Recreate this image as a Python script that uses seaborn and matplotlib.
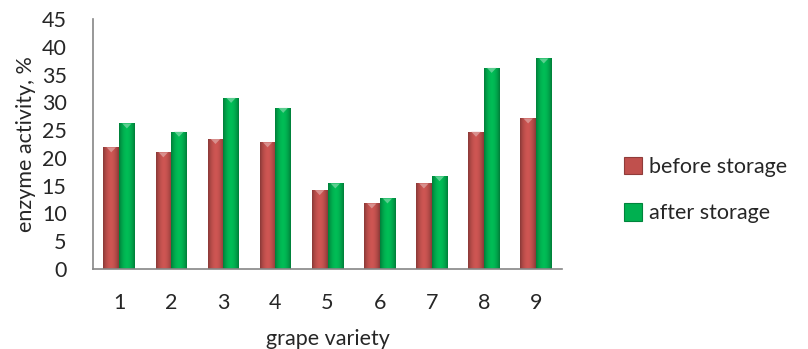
import matplotlib
matplotlib.use("Agg")
import matplotlib.pyplot as plt
import matplotlib.colors as mcolors
import seaborn as sns
import pandas as pd
import numpy as np

varieties = ["1", "2", "3", "4", "5", "6", "7", "8", "9"]
before_storage = [21.9, 21.0, 23.4, 22.8, 14.2, 11.8, 15.4, 24.7, 27.1]
after_storage = [26.2, 24.7, 30.8, 29.0, 15.4, 12.7, 16.7, 36.2, 37.9]
series_names = ["before storage", "after storage"]
series_colors = ["#C0504D", "#00B050"]
y_ticks = [0, 5, 10, 15, 20, 25, 30, 35, 40, 45]

df = pd.DataFrame({
    "variety": varieties * 2,
    "activity": before_storage + after_storage,
    "series": [series_names[0]] * len(varieties) + [series_names[1]] * len(varieties),
})

sns.set_theme(style="white")
plt.rcParams["font.family"] = ["Lato", "DejaVu Sans"]
FS = 15.5
AXIS_GREY = "#868686"

fig = plt.figure(figsize=(8.08, 3.49), dpi=100)
ax = fig.add_axes([93 / 808, 1 - 269 / 349, (562 - 93) / 808, 250 / 349])

sns.barplot(data=df, x="variety", y="activity", hue="series",
            palette=series_colors, width=0.6, saturation=1,
            linewidth=0, ax=ax, legend=False)


def shade(color, n=32):
    """Horizontal gradient: dark rims, lighter middle (bevelled bar)."""
    base = np.array(mcolors.to_rgb(color))
    t = np.linspace(-1, 1, n)
    k = 1 - 0.28 * np.abs(t) ** 2.2 + 0.08 * (1 - np.abs(t))
    return np.clip(base[None, :] * k[:, None], 0, 1)[None, :, :]


for container, color in zip(ax.containers, series_colors):
    grad = shade(color)
    light = np.clip(np.array(mcolors.to_rgb(color)) * 0.55 + 0.45, 0, 1)
    for bar in container:
        x0, w, h = bar.get_x(), bar.get_width(), bar.get_height()
        im = ax.imshow(grad, extent=(x0, x0 + w, 0, h), aspect="auto",
                       zorder=bar.get_zorder() + 0.1, interpolation="bilinear")
        im.set_clip_path(bar)
        # small highlight wedge at the top of each bar
        tri = plt.Polygon([(x0 + 0.2 * w, h), (x0 + 0.8 * w, h), (x0 + 0.5 * w, h - 0.9)],
                          closed=True, facecolor=light, edgecolor="none", alpha=0.8,
                          zorder=bar.get_zorder() + 0.2)
        ax.add_patch(tri)

ax.set_ylim(0, 45)
ax.set_xlim(-0.5, len(varieties) - 0.5)
ax.set_yticks(y_ticks)
ax.set_yticklabels([str(t) for t in y_ticks], fontsize=FS)

# category labels sit between boundary ticks
ax.set_xticks(np.arange(len(varieties)))
ax.set_xticklabels(varieties, fontsize=FS)
ax.tick_params(axis="x", length=0, pad=17)
ax.set_xticks(np.arange(-0.5, len(varieties)), minor=True)
ax.tick_params(axis="x", which="minor", length=7, width=1.2, color=AXIS_GREY, direction="out")
ax.tick_params(axis="y", length=7, width=1.2, color=AXIS_GREY, direction="out", pad=12)

for side in ["top", "right"]:
    ax.spines[side].set_visible(False)
for side in ["left", "bottom"]:
    ax.spines[side].set_color(AXIS_GREY)
    ax.spines[side].set_linewidth(1.2)

ax.set_xlabel("grape variety", fontsize=FS, labelpad=12)
ax.set_ylabel("enzyme activity, %", fontsize=FS, labelpad=4)

handles = []
for c in series_colors:
    handles.append(plt.Rectangle((0, 0), 1, 1, facecolor=c,
                                 edgecolor=np.array(mcolors.to_rgb(c)) * 0.75, linewidth=0.8))
fig.legend(handles, series_names, loc="center left", bbox_to_anchor=(624 / 808, 1 - 190 / 349),
           frameon=False, fontsize=FS, handlelength=0.85, handleheight=0.85,
           handletextpad=0.3, labelspacing=1.25, borderaxespad=0, borderpad=0)

fig.savefig("out.png", dpi=100)
